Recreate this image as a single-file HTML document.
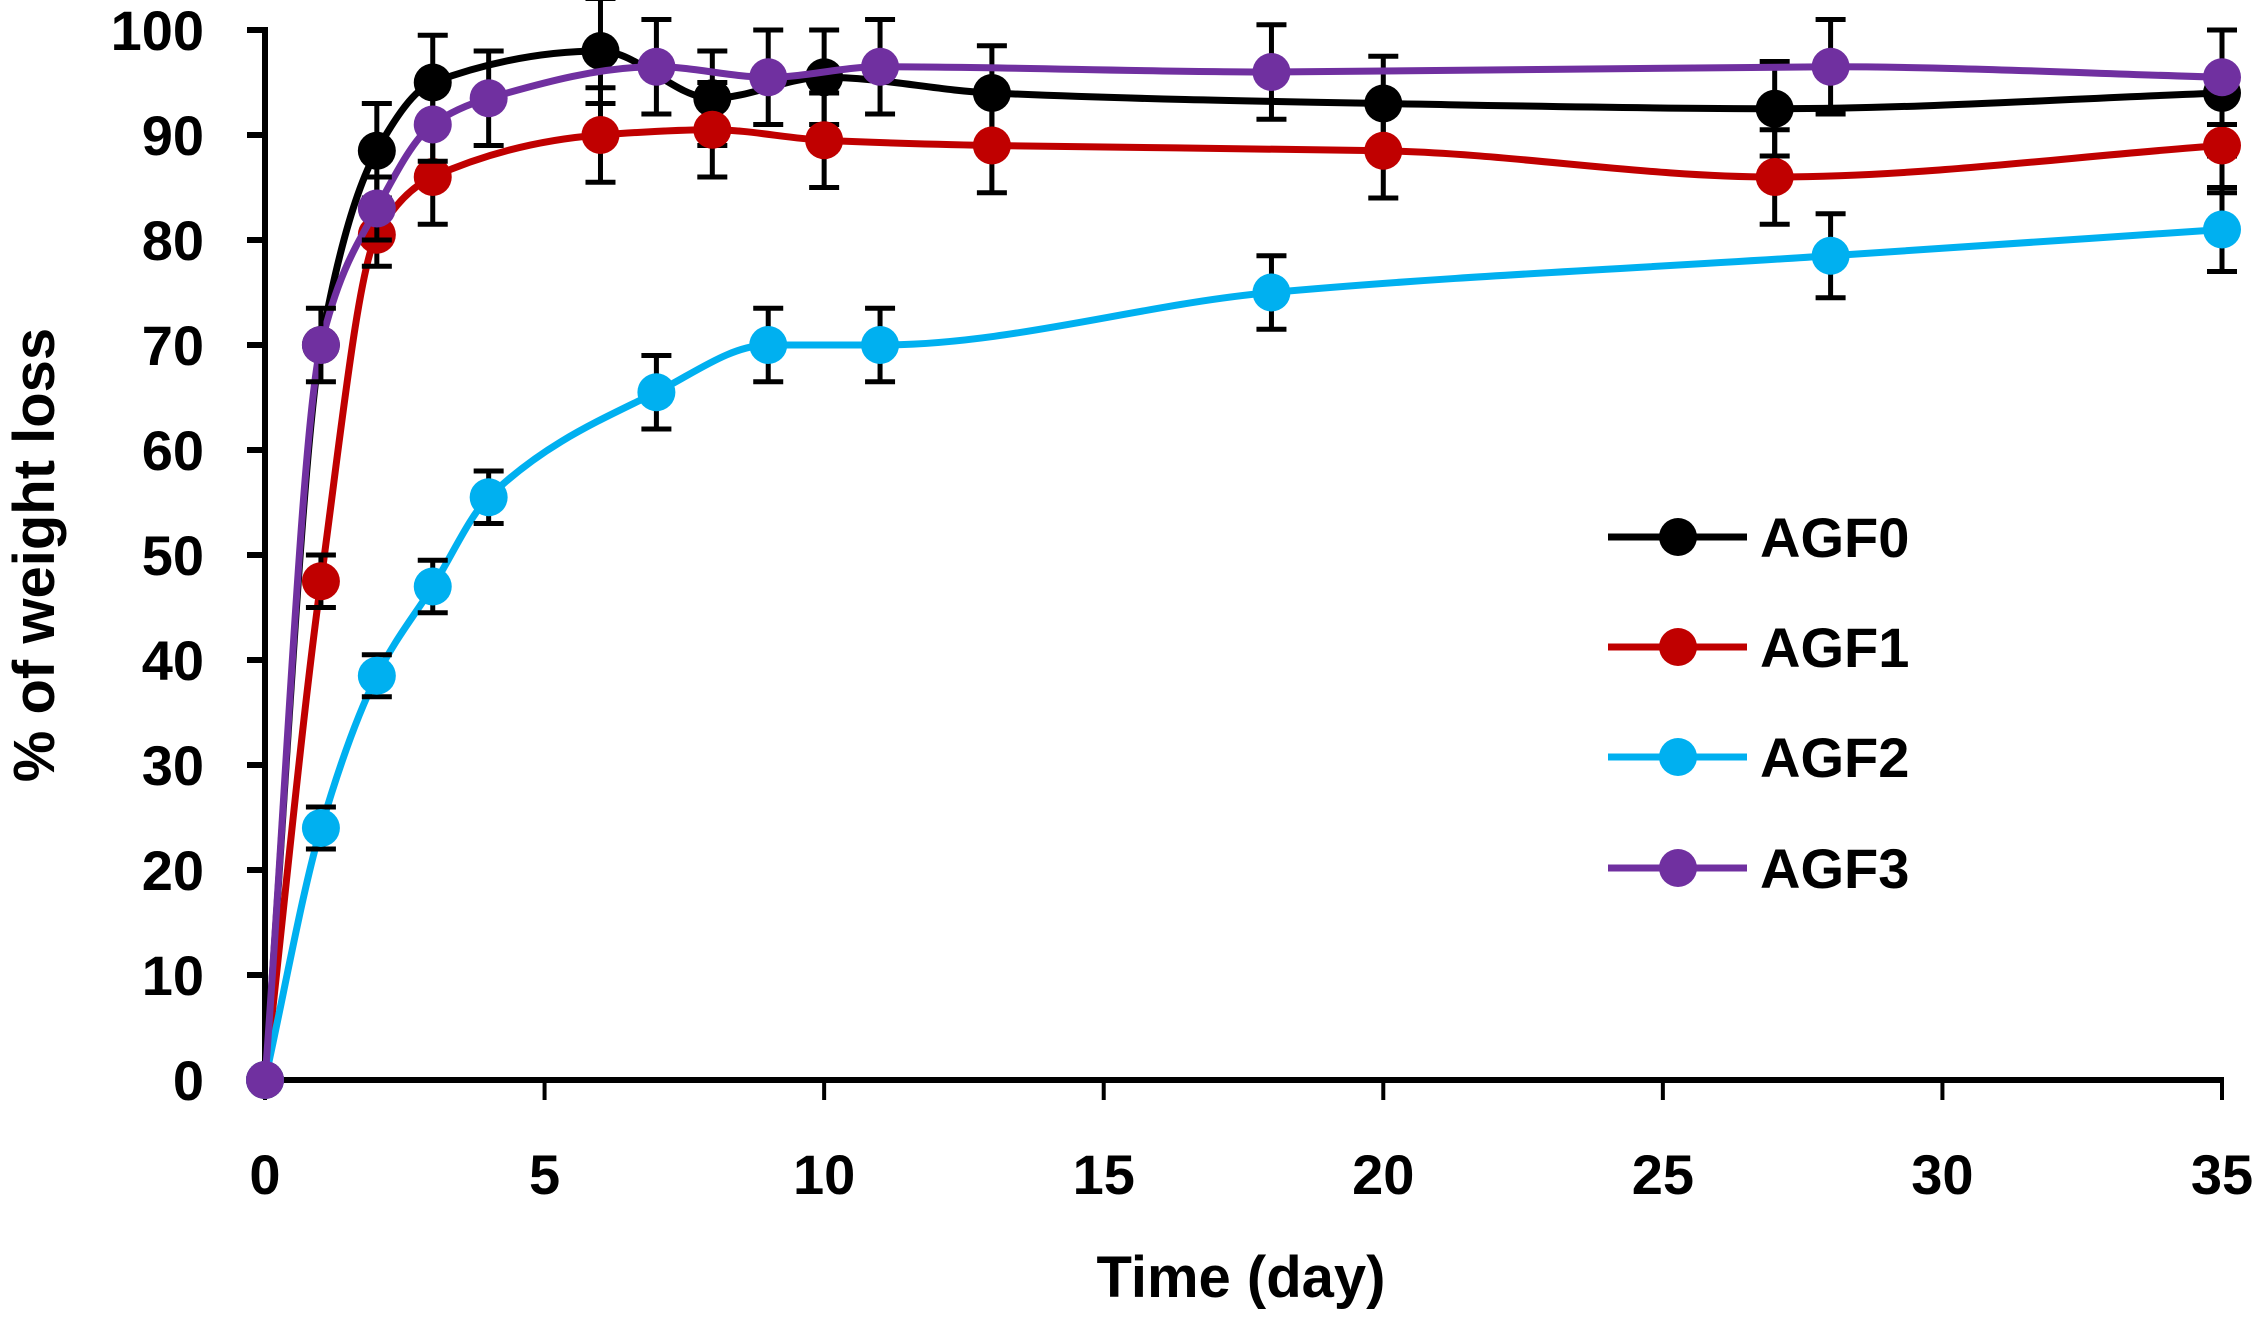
<!DOCTYPE html>
<html><head><meta charset="utf-8"><style>
html,body{margin:0;padding:0;background:#fff;}
svg text{font-family:"Liberation Sans",sans-serif;font-weight:bold;}
</style></head><body>
<svg id="chart" width="2258" height="1319" viewBox="0 0 2258 1319" xmlns="http://www.w3.org/2000/svg">
<g id="axes"></g><g id="series"></g><g id="legend"></g>
</svg>
<script>
const xTicks=[0,5,10,15,20,25,30,35];
const yTicks=[0,10,20,30,40,50,60,70,80,90,100];
const names=["AGF0","AGF1","AGF2","AGF3"];
const colors=["#000000","#c00000","#00b0f0","#7030a0"];
const days0=[0,1,2,3,6,8,10,13,20,27,35];
const vals0=[0,70,88.5,95,98,93.5,95.5,94,93,92.5,94];
const err0=[0,0,4.5,4.5,5,4.5,4.5,4.5,4.5,4.5,6];
const days1=[0,1,2,3,6,8,10,13,20,27,35];
const vals1=[0,47.5,80.5,86,90,90.5,89.5,89,88.5,86,89];
const err1=[0,2.5,3,4.5,4.5,4.5,4.5,4.5,4.5,4.5,4.5];
const days2=[0,1,2,3,4,7,9,11,18,28,35];
const vals2=[0,24,38.5,47,55.5,65.5,70,70,75,78.5,81];
const err2=[0,2,2,2.5,2.5,3.5,3.5,3.5,3.5,4,4];
const days3=[0,1,2,3,4,7,9,11,18,28,35];
const vals3=[0,70,83,91,93.5,96.5,95.5,96.5,96,96.5,95.5];
const err3=[0,3.5,3,3.5,4.5,4.5,4.5,4.5,4.5,4.5,4.5];
const allDays=[days0,days1,days2,days3],allVals=[vals0,vals1,vals2,vals3],allErr=[err0,err1,err2,err3];
const X0=265,X1=2222,Y0=1080,Y1=30;
const sx=v=>X0+(v-0)/35*(X1-X0);
const sy=v=>Y0-(v-0)/100*(Y0-Y1);
const NS="http://www.w3.org/2000/svg";
function mk(t,a,p){const e=document.createElementNS(NS,t);for(const k in a)e.setAttribute(k,a[k]);p.appendChild(e);return e;}
const axes=document.getElementById('axes');
let e=mk('line',{x1:X0,y1:Y1-3,x2:X0,y2:Y0,stroke:'#000','stroke-width':6},axes);


e=mk('line',{x1:X0-3,y1:Y0,x2:X1+2,y2:Y0,stroke:'#000','stroke-width':6},axes);


yTicks.forEach(v=>{
 mk('line',{x1:X0-18,y1:sy(v),x2:X0,y2:sy(v),stroke:'#000','stroke-width':6},axes);
 const t=mk('text',{x:204,y:sy(v)+20,'text-anchor':'end','font-size':56},axes);t.textContent=v;
 
 
});
xTicks.forEach(v=>{
 mk('line',{x1:sx(v),y1:Y0,x2:sx(v),y2:Y0+20,stroke:'#000','stroke-width':4},axes);
 const t=mk('text',{x:sx(v),y:1194,'text-anchor':'middle','font-size':56},axes);t.textContent=v;
 
 
});
let t=mk('text',{x:1241,y:1297,'text-anchor':'middle','font-size':58},axes);t.textContent='Time (day)';


t=mk('text',{x:0,y:0,'text-anchor':'middle','font-size':58,transform:'translate(54,555) rotate(-90)'},axes);t.textContent='% of weight loss';


function monotone(pts){
 const n=pts.length,dx=[],m=[],tg=[];
 for(let i=0;i<n-1;i++){dx[i]=pts[i+1][0]-pts[i][0];m[i]=(pts[i+1][1]-pts[i][1])/dx[i];}
 tg[0]=m[0];tg[n-1]=m[n-2];
 for(let i=1;i<n-1;i++){
  if(m[i-1]*m[i]<=0)tg[i]=0;
  else{const w1=2*dx[i]+dx[i-1],w2=dx[i]+2*dx[i-1];tg[i]=(w1+w2)/(w1/m[i-1]+w2/m[i]);}
 }
 let d='M'+pts[0][0]+','+pts[0][1];
 for(let i=0;i<n-1;i++){
  const h=dx[i]/3;
  d+=` C${pts[i][0]+h},${pts[i][1]+tg[i]*h} ${pts[i+1][0]-h},${pts[i+1][1]-tg[i+1]*h} ${pts[i+1][0]},${pts[i+1][1]}`;
 }
 return d;
}
const sg=document.getElementById('series');
names.forEach((n,s)=>{
 const g=mk('g',{},sg);
 
 
 const pts=allDays[s].map((d,i)=>[sx(d),sy(allVals[s][i])]);
 mk('path',{d:monotone(pts),fill:'none',stroke:colors[s],'stroke-width':7},g);
 allDays[s].forEach((d,i)=>{
  const er=allErr[s][i];if(!er)return;
  const x=sx(d),a=sy(allVals[s][i]+er),b=sy(allVals[s][i]-er);
  mk('path',{d:`M${x},${a}V${b}M${x-15},${a}H${x+15}M${x-15},${b}H${x+15}`,stroke:'#000','stroke-width':5,fill:'none'},g);
 });
 allDays[s].forEach((d,i)=>{
  const c=mk('circle',{cx:sx(d),cy:sy(allVals[s][i]),r:19,fill:colors[s]},g);
  
  
 });
});
const lg=document.getElementById('legend');


const legY=[537,647,757,868];
names.forEach((n,s)=>{
 const g=mk('g',{},lg);
 
 
 mk('line',{x1:1608,y1:legY[s],x2:1747,y2:legY[s],stroke:colors[s],'stroke-width':7},g);
 mk('circle',{cx:1678,cy:legY[s],r:19,fill:colors[s]},g);
 const tx=mk('text',{x:1760,y:legY[s]+20,'font-size':56},g);tx.textContent=n;
});
</script>
</body></html>
